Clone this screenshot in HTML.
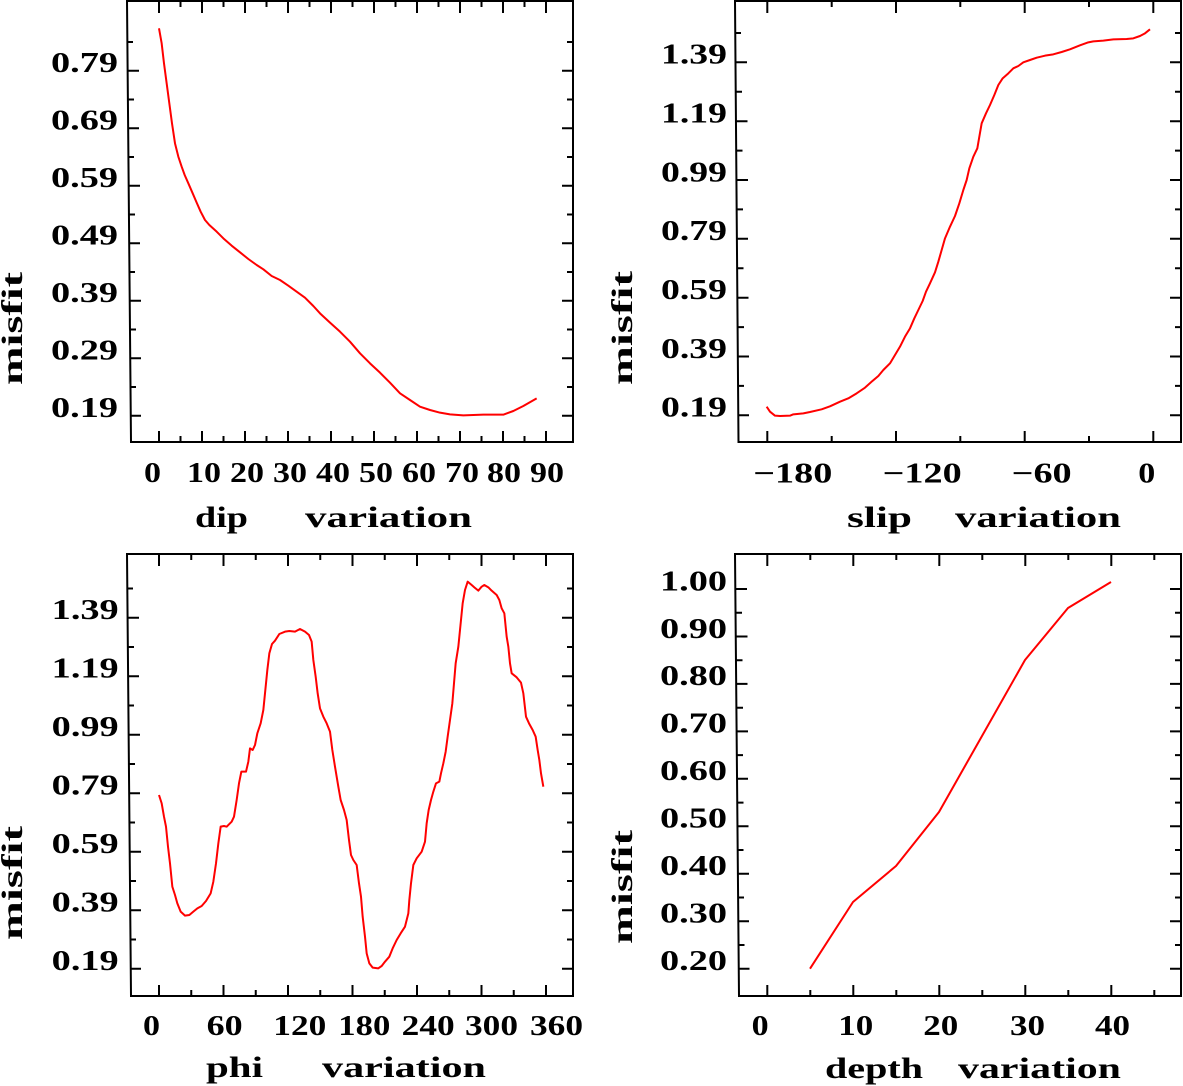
<!DOCTYPE html>
<html>
<head>
<meta charset="utf-8">
<style>
html,body{margin:0;padding:0;background:#fff;}
svg{display:block;}
text{font-family:"Liberation Serif",serif;font-weight:bold;fill:#000;}
.t{font-size:28px;}
.a{font-size:30px;}
</style>
</head>
<body>
<svg width="1183" height="1086" viewBox="0 0 1183 1086" xmlns="http://www.w3.org/2000/svg">
<rect width="1183" height="1086" fill="#fff"/>

<!-- ============ PANEL 1 : dip ============ -->
<g fill="none" stroke="#000" stroke-width="2">
<path d="M127,1 L573,1 L573,442 L131,442 Z"/>
<!-- bottom/top major -->
<path d="M159,442v-11M202,442v-11M245,442v-11M288,442v-11M331,442v-11M374,442v-11M417,442v-11M460,442v-11M503,442v-11M546,442v-11
M180.5,442v-6M223.5,442v-6M266.5,442v-6M309.5,442v-6M352.5,442v-6M395.5,442v-6M438.5,442v-6M481.5,442v-6M524.5,442v-6
M159,1v12M202,1v12M245,1v12M288,1v12M331,1v12M374,1v12M417,1v12M460,1v12M503,1v12M546,1v12
M180.5,1v6M223.5,1v6M266.5,1v6M309.5,1v6M352.5,1v6M395.5,1v6M438.5,1v6M481.5,1v6M524.5,1v6
M128,70.7h11M128,128.2h11M129,185.7h11M129,243.2h11M130,300.7h11M130,358.2h11M130,415.7h11
M127,42h6M128,99.5h6M128,157h6M129,214.5h6M129,272h6M130,329.5h6M130,387h6
M573,70.7h-11M573,128.2h-11M573,185.7h-11M573,243.2h-11M573,300.7h-11M573,358.2h-11M573,415.7h-11
M573,42h-6M573,99.5h-6M573,157h-6M573,214.5h-6M573,272h-6M573,329.5h-6M573,387h-6"/>
</g>
<g class="t">
<text x="51" y="72" textLength="67" lengthAdjust="spacingAndGlyphs">0.79</text>
<text x="51" y="129.5" textLength="67" lengthAdjust="spacingAndGlyphs">0.69</text>
<text x="51" y="187" textLength="67" lengthAdjust="spacingAndGlyphs">0.59</text>
<text x="51" y="244.5" textLength="67" lengthAdjust="spacingAndGlyphs">0.49</text>
<text x="51" y="302" textLength="67" lengthAdjust="spacingAndGlyphs">0.39</text>
<text x="51" y="359.5" textLength="67" lengthAdjust="spacingAndGlyphs">0.29</text>
<text x="51" y="417" textLength="67" lengthAdjust="spacingAndGlyphs">0.19</text>
<text x="144" y="482" textLength="17" lengthAdjust="spacingAndGlyphs">0</text>
<text x="187" y="482" textLength="34" lengthAdjust="spacingAndGlyphs">10</text>
<text x="230" y="482" textLength="34" lengthAdjust="spacingAndGlyphs">20</text>
<text x="273" y="482" textLength="34" lengthAdjust="spacingAndGlyphs">30</text>
<text x="316" y="482" textLength="34" lengthAdjust="spacingAndGlyphs">40</text>
<text x="359" y="482" textLength="34" lengthAdjust="spacingAndGlyphs">50</text>
<text x="402" y="482" textLength="34" lengthAdjust="spacingAndGlyphs">60</text>
<text x="445" y="482" textLength="34" lengthAdjust="spacingAndGlyphs">70</text>
<text x="487" y="482" textLength="34" lengthAdjust="spacingAndGlyphs">80</text>
<text x="530" y="482" textLength="34" lengthAdjust="spacingAndGlyphs">90</text>
</g>
<g class="a">
<text x="195" y="527" textLength="53" lengthAdjust="spacingAndGlyphs">dip</text>
<text x="305" y="527" textLength="167" lengthAdjust="spacingAndGlyphs">variation</text>
<text transform="translate(22,385) rotate(-90)" x="0" y="0" textLength="113" lengthAdjust="spacingAndGlyphs">misfit</text>
</g>
<g transform="translate(150,20) scale(0.333333)">
<path fill="none" stroke="#ff0000" stroke-width="6" stroke-linejoin="round" d="M27,25 L35,70 L42,130 L50,190 L58,250 L66,310 L75,370 L85,410 L95,440 L104,465 L115,490 L128,520 L140,548 L152,575 L165,600 L178,615 L200,635 L220,655 L245,677 L270,697 L295,717 L320,735 L340,748 L365,768 L390,780 L415,797 L440,815 L465,833 L490,858 L510,880 L540,908 L570,935 L600,965 L630,1000 L660,1030 L690,1058 L720,1088 L750,1120 L780,1140 L810,1160 L840,1170 L870,1178 L900,1183 L940,1186 L970,1185 L1000,1184 L1060,1184 L1090,1173 L1120,1158 L1160,1135"/>
</g>

<!-- ============ PANEL 2 : slip ============ -->
<g fill="none" stroke="#000" stroke-width="2">
<path d="M735,1 L1181,1 L1181,442 L738.5,442 Z"/>
<path d="M767.3,442v-11M896,442v-11M1024.7,442v-11M1153.3,442v-11
M831.7,442v-6M960.3,442v-6M1089,442v-6
M767.3,1v12M896,1v12M1024.7,1v12M1153.3,1v12
M831.7,1v6M960.3,1v6M1089,1v6
M736,62.3h11M736.5,121.2h11M737,180h11M737,238.8h11M737.5,297.7h11M738,356.5h11M738,415.3h11
M735,33h6M736,91.8h6M736.5,150.6h6M737,209.4h6M737.5,268.3h6M738,327.1h6M738,385.9h6
M1181,62.3h-11M1181,121.2h-11M1181,180h-11M1181,238.8h-11M1181,297.7h-11M1181,356.5h-11M1181,415.3h-11
M1181,33h-6M1181,91.8h-6M1181,150.6h-6M1181,209.4h-6M1181,268.3h-6M1181,327.1h-6M1181,385.9h-6"/>
</g>
<g class="t">
<text x="661" y="63.5" textLength="66" lengthAdjust="spacingAndGlyphs">1.39</text>
<text x="661" y="122.5" textLength="66" lengthAdjust="spacingAndGlyphs">1.19</text>
<text x="661" y="181.3" textLength="66" lengthAdjust="spacingAndGlyphs">0.99</text>
<text x="661" y="240" textLength="66" lengthAdjust="spacingAndGlyphs">0.79</text>
<text x="661" y="299" textLength="66" lengthAdjust="spacingAndGlyphs">0.59</text>
<text x="661" y="357.8" textLength="66" lengthAdjust="spacingAndGlyphs">0.39</text>
<text x="661" y="416.6" textLength="66" lengthAdjust="spacingAndGlyphs">0.19</text>
<text x="753.3" y="482.5" textLength="79" lengthAdjust="spacingAndGlyphs">−180</text>
<text x="882.7" y="482.5" textLength="79" lengthAdjust="spacingAndGlyphs">−120</text>
<text x="1011.7" y="482.5" textLength="60" lengthAdjust="spacingAndGlyphs">−60</text>
<text x="1138.3" y="482.5" textLength="17" lengthAdjust="spacingAndGlyphs">0</text>
</g>
<g class="a">
<text x="847" y="527" textLength="65" lengthAdjust="spacingAndGlyphs">slip</text>
<text x="955" y="527" textLength="166" lengthAdjust="spacingAndGlyphs">variation</text>
<text transform="translate(632,385) rotate(-90)" x="0" y="0" textLength="114" lengthAdjust="spacingAndGlyphs">misfit</text>
</g>
<g transform="translate(760,20) scale(0.333333)">
<path fill="none" stroke="#ff0000" stroke-width="6" stroke-linejoin="round" d="M20,1160 L30,1175 L45,1187 L60,1188 L90,1187 L100,1183 L130,1180 L150,1176 L185,1168 L210,1159 L240,1145 L265,1135 L290,1120 L315,1103 L335,1085 L355,1068 L370,1050 L390,1030 L405,1005 L420,980 L435,950 L450,925 L463,895 L475,870 L488,843 L498,815 L510,790 L525,757 L535,725 L545,690 L555,655 L570,620 L585,588 L598,550 L610,510 L620,480 L628,445 L640,410 L652,385 L658,350 L665,310 L678,280 L690,255 L703,225 L715,195 L728,175 L745,160 L760,145 L775,138 L790,127 L810,120 L830,113 L855,107 L880,103 L905,96 L930,88 L960,76 L985,67 L1000,64 L1030,62 L1060,58 L1100,57 L1120,55 L1140,48 L1155,40 L1170,28"/>
</g>

<!-- ============ PANEL 3 : phi ============ -->
<g fill="none" stroke="#000" stroke-width="2">
<path d="M127,554 L573,554 L573,996 L131,996 Z"/>
<path d="M159,996v-11M223.5,996v-11M288,996v-11M352.5,996v-11M417,996v-11M481.5,996v-11M546,996v-11
M191.25,996v-6M255.75,996v-6M320.25,996v-6M384.75,996v-6M449.25,996v-6M513.75,996v-6
M159,554v12M223.5,554v12M288,554v12M352.5,554v12M417,554v12M481.5,554v12M546,554v12
M191.25,554v6M255.75,554v6M320.25,554v6M384.75,554v6M449.25,554v6M513.75,554v6
M128,617.7h11M128,676.2h11M129,734.7h11M129,793.2h11M130,851.7h11M130,910.2h11M130,968.7h11
M127,588.5h6M128,647h6M128,705.5h6M129,764h6M129,822.5h6M130,881h6M130,939.5h6
M573,617.7h-11M573,676.2h-11M573,734.7h-11M573,793.2h-11M573,851.7h-11M573,910.2h-11M573,968.7h-11
M573,588.5h-6M573,647h-6M573,705.5h-6M573,764h-6M573,822.5h-6M573,881h-6M573,939.5h-6"/>
</g>
<g class="t">
<text x="51.7" y="619" textLength="67" lengthAdjust="spacingAndGlyphs">1.39</text>
<text x="51.7" y="677.5" textLength="67" lengthAdjust="spacingAndGlyphs">1.19</text>
<text x="51.7" y="736" textLength="67" lengthAdjust="spacingAndGlyphs">0.99</text>
<text x="51.7" y="794.5" textLength="67" lengthAdjust="spacingAndGlyphs">0.79</text>
<text x="51.7" y="853" textLength="67" lengthAdjust="spacingAndGlyphs">0.59</text>
<text x="51.7" y="911.5" textLength="67" lengthAdjust="spacingAndGlyphs">0.39</text>
<text x="51.7" y="970" textLength="67" lengthAdjust="spacingAndGlyphs">0.19</text>
<text x="143" y="1035" textLength="17" lengthAdjust="spacingAndGlyphs">0</text>
<text x="206.7" y="1035" textLength="36" lengthAdjust="spacingAndGlyphs">60</text>
<text x="273.3" y="1035" textLength="53" lengthAdjust="spacingAndGlyphs">120</text>
<text x="338.3" y="1035" textLength="52" lengthAdjust="spacingAndGlyphs">180</text>
<text x="401.7" y="1035" textLength="53" lengthAdjust="spacingAndGlyphs">240</text>
<text x="465" y="1035" textLength="53" lengthAdjust="spacingAndGlyphs">300</text>
<text x="530" y="1035" textLength="53" lengthAdjust="spacingAndGlyphs">360</text>
</g>
<g class="a">
<text x="206" y="1077" textLength="57" lengthAdjust="spacingAndGlyphs">phi</text>
<text x="322" y="1077" textLength="164" lengthAdjust="spacingAndGlyphs">variation</text>
<text transform="translate(22,940) rotate(-90)" x="0" y="0" textLength="114" lengthAdjust="spacingAndGlyphs">misfit</text>
</g>
<g transform="translate(140,570) scale(0.333333)">
<path fill="none" stroke="#ff0000" stroke-width="6" stroke-linejoin="round" d="M57,675 L65,700 L72,740 L78,770 L84,830 L90,880 L97,950 L105,975 L112,1000 L122,1025 L135,1037 L148,1035 L160,1025 L172,1015 L185,1008 L198,993 L212,970 L220,935 L228,880 L235,820 L242,770 L252,768 L260,770 L275,755 L282,740 L290,690 L297,640 L304,605 L318,605 L325,575 L330,535 L338,540 L345,525 L352,490 L362,460 L370,420 L376,360 L382,300 L388,250 L396,222 L405,212 L418,192 L435,185 L448,183 L465,185 L480,177 L495,185 L507,195 L515,215 L520,270 L527,320 L533,370 L540,415 L550,440 L560,460 L570,485 L577,540 L585,590 L595,650 L602,690 L612,720 L620,750 L627,810 L633,855 L640,870 L650,885 L657,940 L663,980 L668,1040 L675,1100 L680,1150 L688,1180 L698,1193 L715,1195 L725,1188 L735,1175 L748,1160 L758,1135 L770,1110 L782,1090 L795,1070 L805,1030 L808,990 L813,940 L820,885 L830,865 L845,845 L855,815 L860,760 L866,720 L873,690 L880,665 L888,640 L898,635 L903,610 L910,580 L917,545 L923,500 L930,450 L937,400 L942,340 L947,280 L955,230 L962,160 L968,100 L975,60 L983,35 L995,45 L1003,52 L1015,62 L1025,50 L1033,45 L1045,52 L1055,62 L1070,75 L1078,90 L1085,115 L1093,130 L1100,200 L1105,230 L1110,280 L1115,310 L1130,322 L1143,338 L1150,370 L1158,440 L1167,460 L1178,480 L1187,500 L1193,540 L1198,570 L1203,610 L1210,650"/>
</g>

<!-- ============ PANEL 4 : depth ============ -->
<g fill="none" stroke="#000" stroke-width="2">
<path d="M735,554 L1181,554 L1181,996 L739,996 Z"/>
<path d="M767.3,996v-11M853.3,996v-11M939.3,996v-11M1025.3,996v-11M1111.3,996v-11
M810.3,996v-6M896.3,996v-6M982.3,996v-6M1068.3,996v-6M1154.3,996v-6
M767.3,554v12M853.3,554v12M939.3,554v12M1025.3,554v12M1111.3,554v12
M810.3,554v6M896.3,554v6M982.3,554v6M1068.3,554v6M1154.3,554v6
M736,589h11M736.5,636.5h11M736.5,683.9h11M737,731.4h11M737,778.8h11M737.5,826.3h11M738,873.8h11M738,921.2h11M738.5,968.7h11
M736,612.7h6M736.5,660.2h6M737,707.7h6M737,755.1h6M737.5,802.6h6M737.5,850h6M738,897.5h6M738.5,945h6
M1181,589h-11M1181,636.5h-11M1181,683.9h-11M1181,731.4h-11M1181,778.8h-11M1181,826.3h-11M1181,873.8h-11M1181,921.2h-11M1181,968.7h-11
M1181,612.7h-6M1181,660.2h-6M1181,707.7h-6M1181,755.1h-6M1181,802.6h-6M1181,850h-6M1181,897.5h-6M1181,945h-6"/>
</g>
<g class="t">
<text x="660" y="590.3" textLength="67" lengthAdjust="spacingAndGlyphs">1.00</text>
<text x="660" y="637.8" textLength="67" lengthAdjust="spacingAndGlyphs">0.90</text>
<text x="660" y="685.2" textLength="67" lengthAdjust="spacingAndGlyphs">0.80</text>
<text x="660" y="732.7" textLength="67" lengthAdjust="spacingAndGlyphs">0.70</text>
<text x="660" y="780.1" textLength="67" lengthAdjust="spacingAndGlyphs">0.60</text>
<text x="660" y="827.6" textLength="67" lengthAdjust="spacingAndGlyphs">0.50</text>
<text x="660" y="875.1" textLength="67" lengthAdjust="spacingAndGlyphs">0.40</text>
<text x="660" y="922.5" textLength="67" lengthAdjust="spacingAndGlyphs">0.30</text>
<text x="660" y="970" textLength="67" lengthAdjust="spacingAndGlyphs">0.20</text>
<text x="751.7" y="1035" textLength="17" lengthAdjust="spacingAndGlyphs">0</text>
<text x="838.3" y="1035" textLength="35" lengthAdjust="spacingAndGlyphs">10</text>
<text x="923.3" y="1035" textLength="35" lengthAdjust="spacingAndGlyphs">20</text>
<text x="1010" y="1035" textLength="35" lengthAdjust="spacingAndGlyphs">30</text>
<text x="1095" y="1035" textLength="35" lengthAdjust="spacingAndGlyphs">40</text>
</g>
<g class="a">
<text x="825" y="1078" textLength="98" lengthAdjust="spacingAndGlyphs">depth</text>
<text x="958" y="1078" textLength="163" lengthAdjust="spacingAndGlyphs">variation</text>
<text transform="translate(632,944) rotate(-90)" x="0" y="0" textLength="114" lengthAdjust="spacingAndGlyphs">misfit</text>
</g>
<path fill="none" stroke="#ff0000" stroke-width="2" stroke-linejoin="round" d="M810,968.7 L853,902 L896,866 L939,812 L982,736 L1025,660 L1068,608 L1111,582"/>

</svg>
</body>
</html>
